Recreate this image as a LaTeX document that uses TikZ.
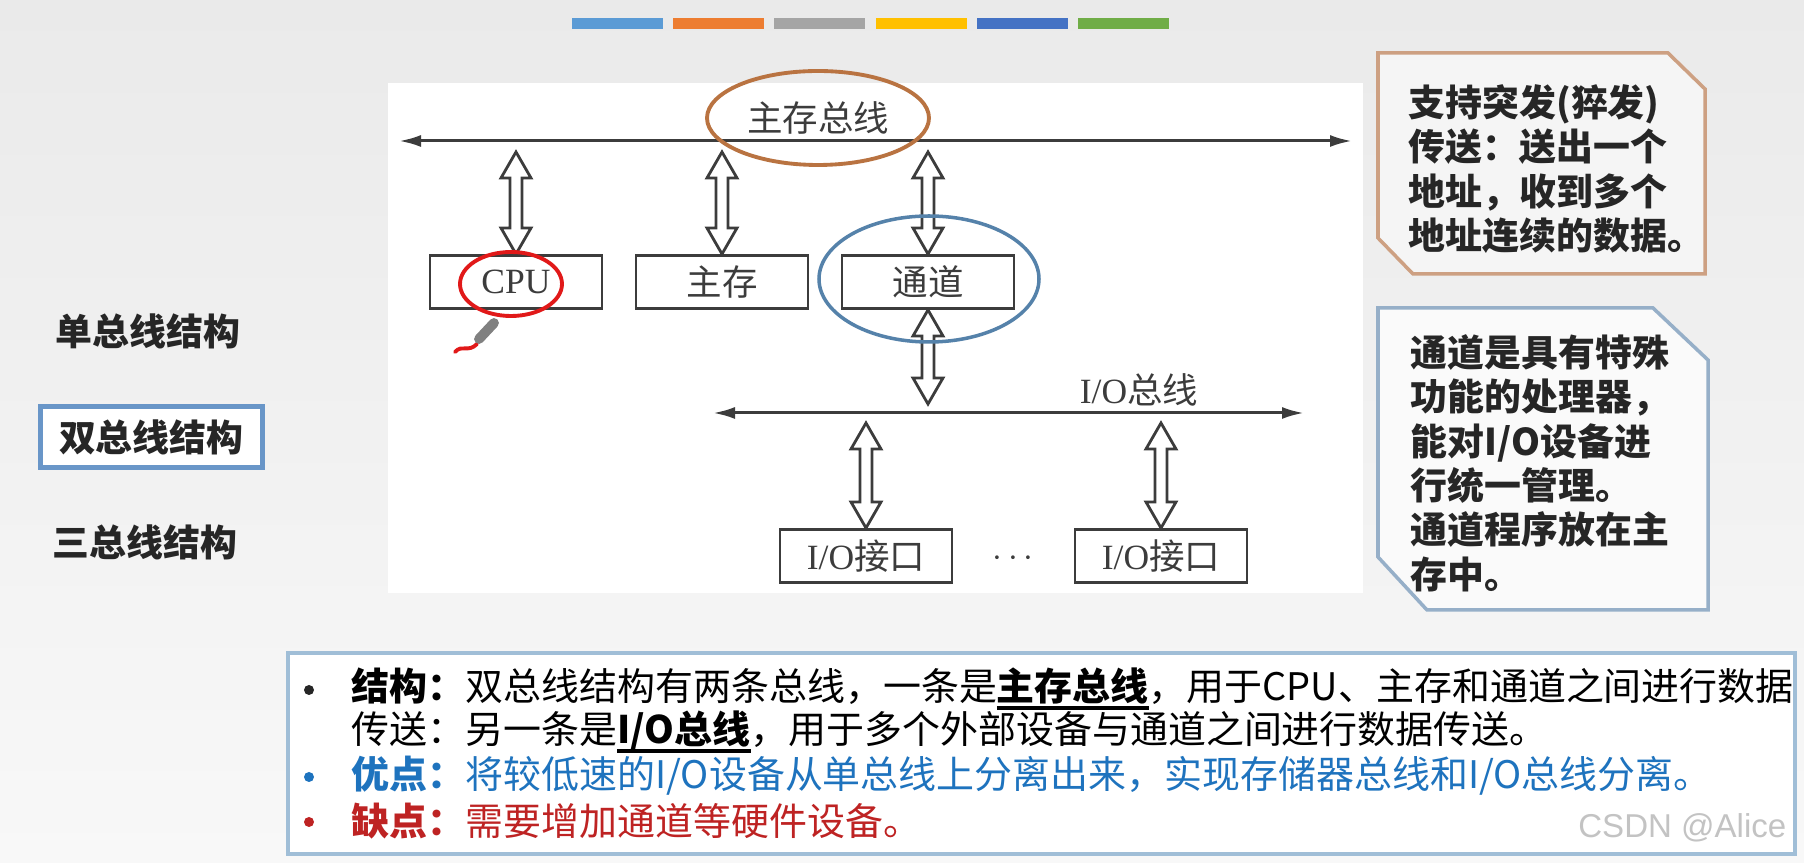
\documentclass[tikz,border=0pt]{standalone}
\usepackage{fontspec}
\setmainfont{Liberation Serif}
\newfontfamily\cjk{Noto Sans CJK SC}
\newfontfamily\wmfont{Liberation Sans}
\usetikzlibrary{calc,arrows.meta,shapes.geometric}

\definecolor{bgtop}{RGB}{234,234,234}
\definecolor{bgbot}{RGB}{248,248,248}
\definecolor{boxgray}{RGB}{60,60,60}
\definecolor{ringorange}{RGB}{185,115,65}
\definecolor{ringblue}{RGB}{85,130,170}
\definecolor{ringred}{RGB}{225,25,25}
\definecolor{noteorange}{RGB}{205,160,130}
\definecolor{noteblue}{RGB}{150,175,200}
\definecolor{selblue}{RGB}{105,150,200}
\definecolor{sumblue}{RGB}{160,190,215}
\definecolor{protext}{RGB}{30,115,190}
\definecolor{context}{RGB}{190,35,35}
\definecolor{wmgray}{RGB}{195,195,195}
\definecolor{barblue}{RGB}{91,155,213}
\definecolor{barorange}{RGB}{237,125,49}
\definecolor{bargray}{RGB}{165,165,165}
\definecolor{baryellow}{RGB}{255,192,0}
\definecolor{bardblue}{RGB}{68,114,196}
\definecolor{bargreen}{RGB}{112,173,71}

\tikzset{
  unitbox/.style={draw=boxgray, line width=0.85pt, fill=white, minimum width=17.2mm,
    minimum height=5.3mm, inner sep=0pt, text=boxgray, font=\fontsize{10.1pt}{12pt}\selectfont},
  busline/.style={draw=boxgray, line width=0.85pt,
    {Latex[length=2.2mm,width=1.2mm]}-{Latex[length=2.2mm,width=1.2mm]}},
  fatline/.style={draw=boxgray, line width=0.8pt, fill=white, line join=miter},
  difont/.style={inner sep=0pt, text=boxgray, font=\fontsize{10.1pt}{12pt}\selectfont},
  notetext/.style={anchor=north west, inner sep=0pt, align=left, text=black!85,
    font=\cjk\bfseries\fontsize{10.5pt}{12.6pt}\selectfont},
  sidelabel/.style={anchor=west, inner sep=0pt, text=black!85,
    font=\cjk\bfseries\fontsize{10.5pt}{12pt}\selectfont},
  sumline/.style={anchor=west, inner sep=0pt, font=\cjk\fontsize{10.8pt}{13pt}\selectfont},
  dot/.style={circle, inner sep=0pt, minimum size=1mm},
}

% underlined words in the summary
\newsavebox\ulsave
\newcommand{\ulbox}[1]{\sbox\ulsave{#1}\rlap{\rule[-0.24em]{\wd\ulsave}{0.09em}}\usebox\ulsave}

% hollow two-headed arrow between an upper and a lower point
\newcommand{\fatarrow}[2]{%
  \draw[fatline] let \p1=(#1), \p2=(#2) in
    (\x1,\y1) -- ++(1.5mm,-2.6mm) -- ++(-0.9mm,0) -- ({\x1+0.6mm},{\y2+2.6mm})
    -- ++(0.9mm,0) -- (\x1,\y2) -- ++(-1.5mm,2.6mm) -- ++(0.9mm,0)
    -- ({\x1-0.6mm},{\y1-2.6mm}) -- ++(-0.9mm,0) -- cycle;}

\begin{document}
\begin{tikzpicture}[x=0.1mm, y=-0.1mm]
\useasboundingbox (0,0) rectangle (1804,863);
\fill[top color=bgtop, bottom color=bgbot] (0,0) rectangle (1804,863);

% colour strip
\foreach \c [count=\i] in {barblue,barorange,bargray,baryellow,bardblue,bargreen}
  \fill[\c] ({572+(\i-1)*101.2},18) rectangle ++(91,11);

% diagram panel
\fill[white] (388,83) rectangle (1363,593);

% buses
\coordinate (mbus-w) at (399,141);
\coordinate (mbus-e) at (1352,141);
\coordinate (iobus-w) at (713,413);
\coordinate (iobus-e) at (1304,413);
\draw[busline] (mbus-w) -- (mbus-e);
\draw[busline] (iobus-w) -- (iobus-e);

\node[ellipse, draw=ringorange, line width=1.1pt, minimum width=22.2mm, minimum height=9.4mm,
  inner sep=0pt, text=boxgray, font=\cjk\fontsize{10.1pt}{12pt}\selectfont] (mbus-lbl) at (818,118) {主存总线};
\node[difont, anchor=base] (iobus-lbl) at (1139,404) {I/O{\cjk 总线}};

% units on the memory bus
\node[unitbox] (cpu) at (516,282) {CPU};
\node[unitbox] (mem) at (722,282) {\cjk 主存};
\node[unitbox] (chan) at (928,282) {\cjk 通道};

\coordinate (cpu-up) at (516,152);
\coordinate (mem-up) at (722,152);
\coordinate (chan-up) at (928,152);
\coordinate (chan-dn) at (928,404);
\fatarrow{cpu-up}{cpu.north}
\fatarrow{mem-up}{mem.north}
\fatarrow{chan-up}{chan.north}
\fatarrow{chan.south}{chan-dn}

% interfaces on the I/O bus
\node[unitbox] (io1) at (866,556) {I/O{\cjk 接口}};
\node[unitbox] (io2) at (1161,556) {I/O{\cjk 接口}};
\node[difont] (dots) at (1013,559) {$\cdots$};
\coordinate (io1-up) at (866,423);
\coordinate (io2-up) at (1161,423);
\fatarrow{io1-up}{io1.north}
\fatarrow{io2-up}{io2.north}

% hand marks
\draw[ringred, line width=1.1pt] (511,284) ellipse [x radius=51, y radius=32];
\draw[ringblue, line width=1pt] (929,279) ellipse [x radius=110, y radius=63];
\draw[ringred, line width=1.1pt, line cap=round] (455,352) .. controls (462,344) and (468,353) .. (477,344);
\draw[gray, line width=2.8pt, line cap=round] (479,339) -- (494,323);

% left menu
\node[sidelabel] (single) at (55,331) {单总线结构};
\node[sidelabel, draw=selblue, line width=1.3pt, fill=white, minimum width=22.2mm,
  minimum height=6.1mm, inner xsep=0pt] (double) at (38,437) {双总线结构};
\node[sidelabel] (triple) at (52,542) {三总线结构};

% callouts
\draw[noteorange, line width=1pt, fill=white!96!black]
  (1378,53) -- (1668,53) -- (1705,89) -- (1705,274) -- (1413,274) -- (1378,238) -- cycle;
\node[notetext] (burst) at (1408,84) {支持突发(猝发)\\传送：送出一个\\地址，收到多个\\地址连续的数据。};
\draw[noteblue, line width=1pt, fill=white!98!black]
  (1378,308) -- (1653,308) -- (1708,360) -- (1708,610) -- (1427,610) -- (1378,557) -- cycle;
\node[notetext] (chan-note) at (1410,334) {通道是具有特殊\\功能的处理器，\\能对I/O设备进\\行统一管理。\\通道程序放在主\\存中。};

% summary
\draw[sumblue, line width=1.1pt, fill=white] (288,653) rectangle (1795,854);
\node[dot, fill=black!85] (b1) at (309,690) {};
\node[sumline] (l1) at (351,689) {\textbf{结构：}双总线结构有两条总线，一条是\ulbox{\textbf{主存总线}}，用于CPU、主存和通道之间进行数据};
\node[sumline] (l2) at (351,732) {传送：另一条是\ulbox{\textbf{I/O总线}}，用于多个外部设备与通道之间进行数据传送。};
\node[dot, fill=protext] (b3) at (309,777) {};
\node[sumline, text=protext] (l3) at (351,776) {\textbf{优点：}将较低速的I/O设备从单总线上分离出来，实现存储器总线和I/O总线分离。};
\node[dot, fill=context] (b4) at (309,822) {};
\node[sumline, text=context] (l4) at (351,821) {\textbf{缺点：}需要增加通道等硬件设备。};

\node[anchor=east, inner sep=0pt, text=wmgray, font=\wmfont\fontsize{9.4pt}{11pt}\selectfont] (mark) at (1787,828) {CSDN @Alice};
\end{tikzpicture}
\end{document}
